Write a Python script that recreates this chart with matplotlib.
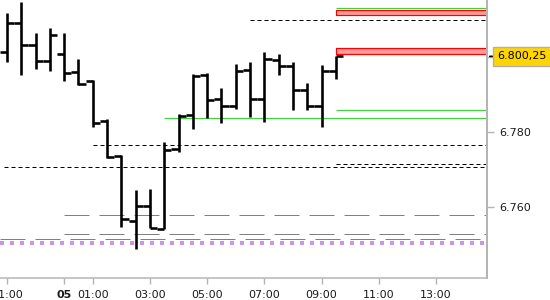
import matplotlib
matplotlib.use('Agg')
import matplotlib.pyplot as plt
import numpy as np

# 30-minute OHLC bars
opens = [6801.5, 6809.25, 6803.25, 6799.0, 6801.0, 6796.0, 6793.75, 6783.0,
         6773.75, 6756.25, 6760.25, 6754.25, 6775.5, 6784.5, 6795.25, 6788.75,
         6787.0, 6796.5, 6788.75, 6799.25, 6797.75, 6791.25, 6787.0, 6796.25]
highs = [6811.75, 6814.75, 6806.5, 6807.75, 6806.5, 6799.5, 6794.0, 6783.5,
         6774.0, 6764.5, 6765.0, 6777.5, 6785.0, 6795.5, 6795.75, 6791.75,
         6798.25, 6798.75, 6801.5, 6801.0, 6798.75, 6793.25, 6798.0, 6800.25]
lows = [6798.75, 6795.25, 6797.0, 6796.25, 6793.75, 6792.5, 6781.5, 6773.25,
        6754.75, 6749.0, 6754.5, 6754.25, 6774.75, 6781.0, 6783.75, 6782.5,
        6786.25, 6784.0, 6782.75, 6795.25, 6786.0, 6786.0, 6781.5, 6794.25]
closes = [6809.25, 6803.25, 6799.0, 6806.0, 6795.75, 6793.0, 6782.5, 6773.5,
          6757.0, 6760.25, 6754.5, 6775.25, 6784.25, 6795.0, 6788.5, 6787.0,
          6796.25, 6788.75, 6799.5, 6797.75, 6791.25, 6787.0, 6796.25, 6800.25]

tick_bars = [0, 4, 6, 10, 14, 18, 22, 26, 30]
tick_labels = ["21:00", "05", "01:00", "03:00", "05:00", "07:00", "09:00", "11:00", "13:00"]

# levels: price, bar index where the line starts (-1 = from the left edge)
green_prices = [6813.1, 6786.0, 6783.75]
green_starts = [23, 23, 11]
black_prices = [6810.0, 6776.5, 6770.75, 6771.5]
black_starts = [17, 6, -1, 23]
grey_prices = [6758.0, 6753.0, 6751.5]
grey_starts = [4, 4, -1]
purple_price = 6750.5
zone_lows = [6811.4, 6801.0]
zone_highs = [6812.5, 6802.4]
zone_starts = [23, 23]

plt.rcParams['lines.scale_dashes'] = False
px = 0.72  # points per pixel at dpi 100

fig = plt.figure(figsize=(5.5, 3.0), dpi=100)
ax = fig.add_axes([0, 22 / 300, 487 / 550, 278 / 300])
xmin, xmax = -0.49, 33.57
ax.set_xlim(xmin, xmax)
ax.set_ylim(6741.15, 6815.28)

# levels
ax.hlines(purple_price, xmin, xmax, color='#c896e6', lw=4 * px,
          linestyle=(0, (4 * px, 6 * px)), zorder=1)
for p, s in zip(grey_prices, grey_starts):
    ax.hlines(p, max(s, xmin), xmax, color='#808080', lw=1 * px,
              linestyle=(0, (25 * px, 10 * px)), zorder=1)
for p, s in zip(black_prices, black_starts):
    ax.hlines(p, max(s, xmin + 0.27), xmax, color='black', lw=1 * px,
              linestyle=(0, (4 * px, 3 * px)), zorder=1)
for p, s in zip(green_prices, green_starts):
    ax.hlines(p, s, xmax, color='#40d040', lw=1.2 * px, zorder=1)
for lo, hi, s in zip(zone_lows, zone_highs, zone_starts):
    ax.fill_between([s, xmax], lo, hi, facecolor='#ff9a9a', edgecolor='red',
                    lw=1.2 * px, zorder=2)

# OHLC bars
x = np.arange(len(opens))
ax.vlines(x, lows, highs, color='black', lw=2.6 * px, zorder=3)
ax.hlines(opens, x - 0.5, x, color='black', lw=2.6 * px, zorder=3)
ax.hlines(closes, x, x + 0.5, color='black', lw=2.6 * px, zorder=3)

# axes styling
for side in ['top', 'left']:
    ax.spines[side].set_visible(False)
ax.spines['right'].set_color('#b4b4b4')
ax.spines['right'].set_linewidth(2 * px)
ax.spines['bottom'].set_color('#b4b4b4')
ax.spines['bottom'].set_linewidth(1.5 * px)

ax.set_xticks(tick_bars)
ax.set_xticklabels(tick_labels)
ax.tick_params(axis='x', colors='#b4b4b4', length=4, width=1, pad=5,
               labelcolor='#1a1a1a', labelsize=8)
for lbl in ax.get_xticklabels():
    if lbl.get_text() == "05":
        lbl.set_fontweight('bold')

ax.yaxis.tick_right()
ax.set_yticks([6760, 6780, 6800])
ax.set_yticklabels(["6.760", "6.780", ""])
ax.tick_params(axis='y', colors='#b4b4b4', length=5, width=1, pad=4,
               labelcolor='#1a1a1a', labelsize=8)

# last price marker
last = closes[-1]
ax.annotate("", xy=(1, last), xycoords=('axes fraction', 'data'),
            xytext=(6, 0), textcoords='offset points',
            arrowprops=dict(arrowstyle='-', color='black', lw=1.2))
ax.annotate("6.800,25", xy=(1, last), xycoords=('axes fraction', 'data'),
            xytext=(7.5, 0), textcoords='offset points', ha='left', va='center',
            fontsize=8, color='black', annotation_clip=False, zorder=10,
            bbox=dict(boxstyle='square,pad=0.4', facecolor='#ffd500',
                      edgecolor='#b0b0b0', lw=1))

fig.savefig('out.png', dpi=100, facecolor='white')
plt.close(fig)
